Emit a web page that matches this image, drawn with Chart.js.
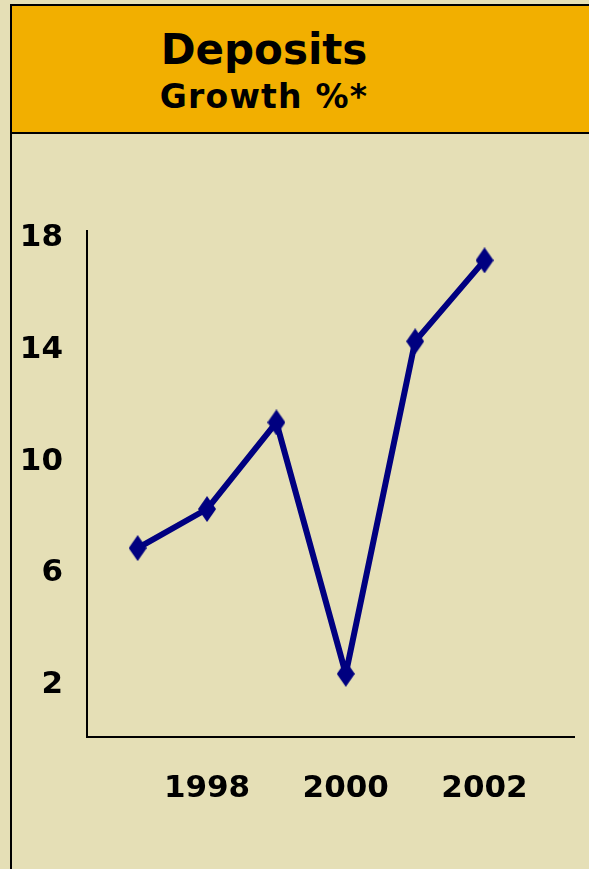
<!DOCTYPE html>
<html><head><meta charset="utf-8">
<script src="https://cdn.jsdelivr.net/npm/chart.js@4.4.0/dist/chart.umd.min.js"></script>
<style>
html,body{margin:0;padding:0;width:589px;height:869px;overflow:hidden;background:#E5DFB6;}
#box{position:absolute;left:10px;top:4px;width:700px;height:1000px;border:2px solid #000;box-sizing:border-box;}
#hdr{position:absolute;left:10px;top:4px;width:700px;height:130px;background:#F2AF00;border:2px solid #000;box-sizing:border-box;}
.t{position:absolute;left:0;width:528px;text-align:center;font-family:"DejaVu Sans";font-weight:bold;color:#000;white-space:nowrap;}
#t1{top:29px;font-size:42px;line-height:42px;}
#t2{top:80px;font-size:33px;line-height:33px;letter-spacing:1.2px;}
#wrap{position:absolute;left:0;top:0;width:589px;height:869px;}
</style></head>
<body>
<div id="box"></div>
<div id="hdr"></div>
<div class="t" id="t1">Deposits</div>
<div class="t" id="t2">Growth %*</div>
<div id="wrap"><canvas id="c" width="589" height="869"></canvas></div>
<script>
const years = [1997, 1998, 1999, 2000, 2001, 2002];
const growth = [6.9, 8.3, 11.4, 2.4, 14.3, 17.2];
const xTickYears = [1998, 2000, 2002];
const yTickValues = [2, 6, 10, 14, 18];

// elongated diamond marker
const marker = document.createElement('canvas');
marker.width = 18; marker.height = 26;
(function(){
  const g = marker.getContext('2d');
  g.fillStyle = '#000080';
  g.beginPath();
  g.moveTo(9, 0); g.lineTo(18, 13); g.lineTo(9, 26); g.lineTo(0, 13);
  g.closePath(); g.fill();
})();

const tickFont = {family: 'DejaVu Sans', weight: 'bold', size: 31};

new Chart(document.getElementById('c'), {
  type: 'line',
  data: {
    datasets: [{
      data: years.map((y, i) => ({x: y, y: growth[i]})),
      borderColor: '#000080',
      backgroundColor: '#000080',
      borderWidth: 6,
      borderJoinStyle: 'round',
      pointStyle: marker,
      pointRadius: 9,
      tension: 0,
      clip: false
    }]
  },
  options: {
    responsive: false,
    animation: false,
    layout: {padding: {top: 231, right: 13, left: 0, bottom: 0}},
    plugins: {legend: {display: false}, tooltip: {enabled: false}, title: {display: false}},
    scales: {
      x: {
        type: 'linear',
        min: 1996.27, max: 2003.29,
        afterBuildTicks: s => { s.ticks = xTickYears.map(v => ({value: v})); },
        afterFit: s => { s.height = 132; },
        grid: {display: false},
        border: {display: true, color: '#000', width: 2},
        ticks: {callback: v => String(v), font: tickFont, color: '#000', padding: 25, maxRotation: 0, autoSkip: false}
      },
      y: {
        min: 0.14, max: 18.25,
        afterBuildTicks: s => { s.ticks = yTickValues.map(v => ({value: v})); },
        afterFit: s => { s.width = 87; },
        grid: {display: false},
        border: {display: true, color: '#000', width: 2},
        ticks: {callback: v => String(v), font: tickFont, color: '#000', padding: 16, autoSkip: false}
      }
    }
  }
});
</script>
</body></html>
